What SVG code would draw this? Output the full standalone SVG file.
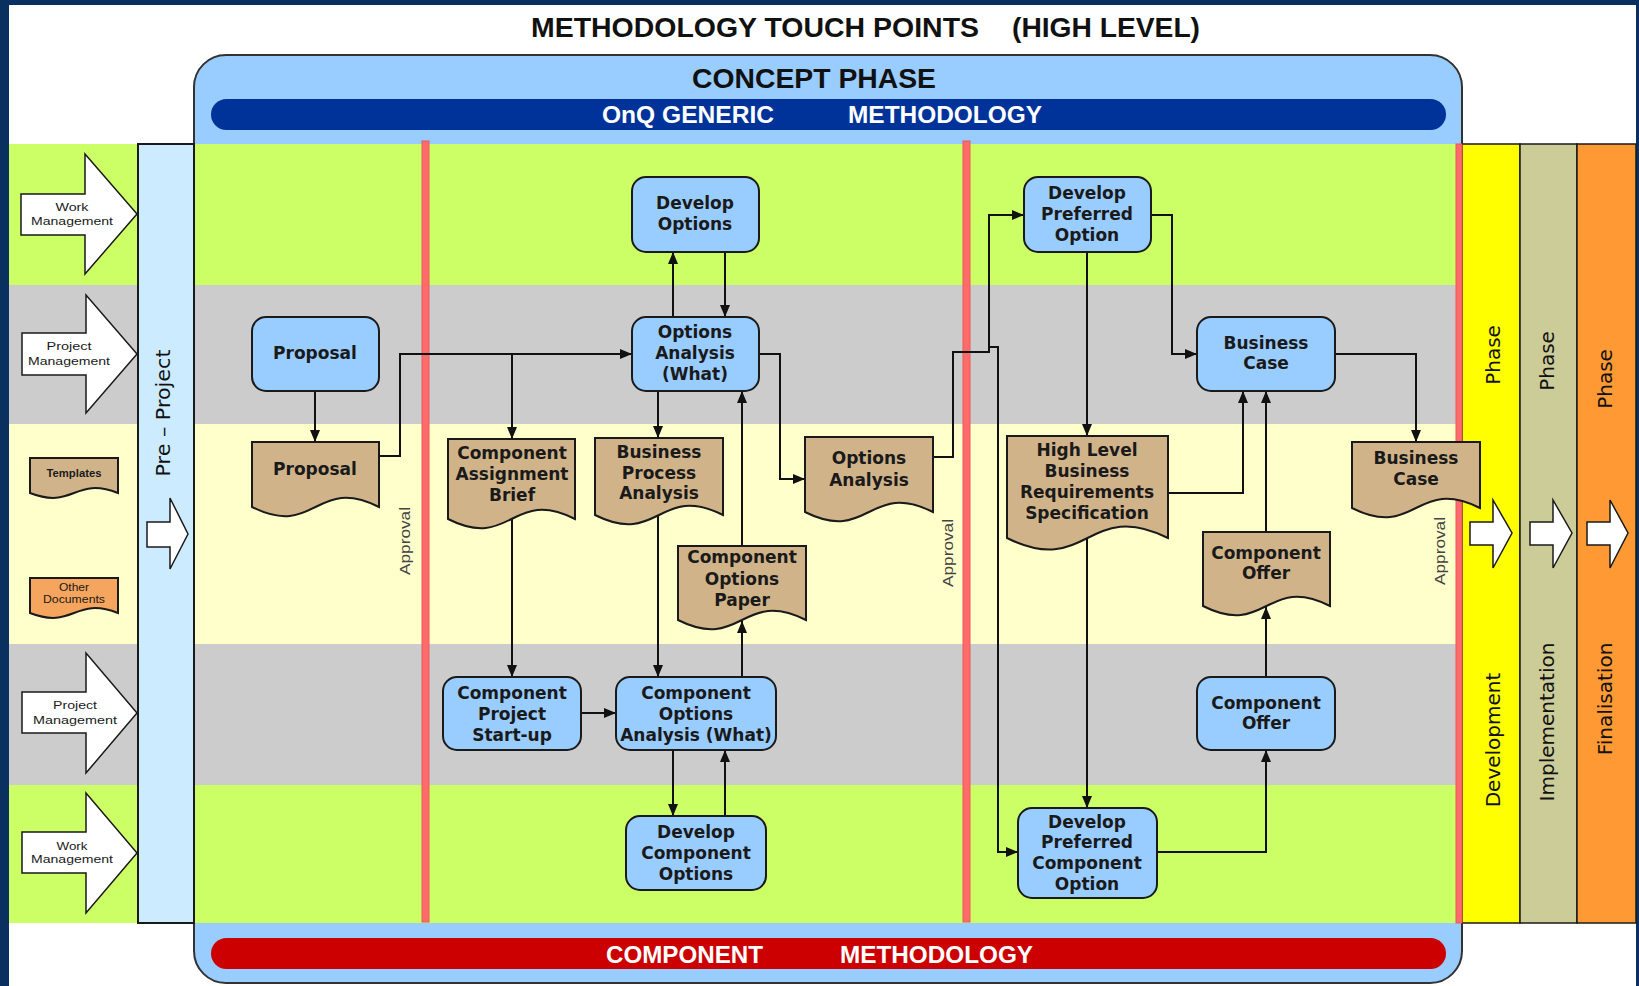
<svg xmlns="http://www.w3.org/2000/svg" width="1639" height="986" viewBox="0 0 1639 986">
  <defs>
    <style>
      .lane-green { fill: #CCFF66; }
      .lane-gray { fill: #CCCCCC; }
      .lane-cream { fill: #FFFFCC; }
      .gate { fill: #FF6B6B; stroke: #E85A5A; stroke-width: 1; }
      .inflow { fill: #FFFFFF; stroke: #1A1A1A; stroke-width: 1.5; stroke-linejoin: miter; }
      .phase { stroke: #1A1A1A; stroke-width: 1.5; }
      .proc { fill: #99CCFF; stroke: #1A1A1A; stroke-width: 2; }
      .doc { fill: #D1B38A; stroke: #1A1A1A; stroke-width: 2; stroke-linejoin: miter; }
      .nt { font-family: "DejaVu Sans", "Liberation Sans", sans-serif; font-weight: bold; font-size: 17px; fill: #1A1A1A; text-anchor: middle; }
      .head { font-family: "Liberation Sans", Arial, sans-serif; font-weight: bold; fill: #111111; }
      .band { font-family: "Liberation Sans", Arial, sans-serif; font-weight: bold; font-size: 24px; fill: #FFFFFF; }
      .small { font-family: "Liberation Sans", Arial, sans-serif; font-size: 11px; fill: #1A1A1A; text-anchor: middle; }
      .vert { font-family: "DejaVu Sans", sans-serif; font-size: 20px; fill: #111111; text-anchor: middle; }
      .appr { font-family: "Liberation Sans", Arial, sans-serif; font-size: 15px; fill: #444444; text-anchor: middle; }
      .wire { fill: none; stroke: #111111; stroke-width: 2; marker-end: url(#tip); }
    </style>
    <marker id="tip" markerUnits="userSpaceOnUse" markerWidth="12" markerHeight="10" refX="12" refY="5" orient="auto">
      <path d="M0,0 L12,5 L0,10 Z" fill="#111111"/>
    </marker>
  </defs>

  <!-- frame and page -->
  <rect x="0" y="0" width="1639" height="986" fill="#0A3060"/>
  <rect x="9" y="5" width="1627" height="981" fill="#FFFFFF"/>

  <!-- title -->
  <text class="head" x="531" y="37" font-size="27" textLength="448" lengthAdjust="spacingAndGlyphs">METHODOLOGY TOUCH POINTS</text>
  <text class="head" x="1012" y="37" font-size="27" textLength="188" lengthAdjust="spacingAndGlyphs">(HIGH LEVEL)</text>

  <!-- concept phase container -->
  <g id="concept-phase">
    <rect x="194" y="55" width="1268" height="928" rx="32" fill="#99CCFF" stroke="#333333" stroke-width="2"/>
    <text class="head" x="692" y="88" font-size="27" textLength="244" lengthAdjust="spacingAndGlyphs">CONCEPT PHASE</text>
    <rect x="211" y="99" width="1235" height="31" rx="15.5" fill="#003399"/>
    <text class="band" x="602" y="123" textLength="172" lengthAdjust="spacingAndGlyphs">OnQ GENERIC</text>
    <text class="band" x="848" y="123" textLength="194" lengthAdjust="spacingAndGlyphs">METHODOLOGY</text>
    <rect x="211" y="938" width="1235" height="31" rx="15.5" fill="#CC0000"/>
    <text class="band" x="606" y="963" textLength="157" lengthAdjust="spacingAndGlyphs">COMPONENT</text>
    <text class="band" x="840" y="963" textLength="193" lengthAdjust="spacingAndGlyphs">METHODOLOGY</text>
  </g>

  <!-- swim lanes -->
  <g id="lanes">
    <rect class="lane-green" x="9" y="144" width="1449" height="141"/>
    <rect class="lane-gray" x="9" y="285" width="1449" height="139"/>
    <rect class="lane-cream" x="9" y="424" width="1449" height="220"/>
    <rect class="lane-gray" x="9" y="644" width="1449" height="141"/>
    <rect class="lane-green" x="9" y="785" width="1449" height="138"/>
  </g>

  <!-- lane inflow arrows -->
  <g id="lane-work-top">
    <path class="inflow" d="M21,194 H85 V154 L137,214 L85,274 V235 H21 Z"/>
    <text class="small" x="72" y="211" textLength="33" lengthAdjust="spacingAndGlyphs">Work</text>
    <text class="small" x="72" y="225" textLength="82" lengthAdjust="spacingAndGlyphs">Management</text>
  </g>
  <g id="lane-project-top">
    <path class="inflow" d="M22,333 H86 V295 L137,354 L86,413 V375 H22 Z"/>
    <text class="small" x="69" y="350" textLength="45" lengthAdjust="spacingAndGlyphs">Project</text>
    <text class="small" x="69" y="365" textLength="82" lengthAdjust="spacingAndGlyphs">Management</text>
  </g>
  <g id="lane-project-bottom">
    <path class="inflow" d="M22,692 H86 V653 L137,713 L86,773 V733 H22 Z"/>
    <text class="small" x="75" y="709" textLength="44" lengthAdjust="spacingAndGlyphs">Project</text>
    <text class="small" x="75" y="724" textLength="84" lengthAdjust="spacingAndGlyphs">Management</text>
  </g>
  <g id="lane-work-bottom">
    <path class="inflow" d="M22,832 H86 V793 L137,853 L86,913 V873 H22 Z"/>
    <text class="small" x="72" y="850" textLength="31" lengthAdjust="spacingAndGlyphs">Work</text>
    <text class="small" x="72" y="863" textLength="82" lengthAdjust="spacingAndGlyphs">Management</text>
  </g>

  <!-- legend -->
  <g id="legend-templates">
    <path class="doc" stroke-width="1.5" d="M30,458 H118 V493 C74,476 74,510 30,493 Z"/>
    <text class="small" x="74" y="477" font-size="10" font-weight="bold" textLength="55" lengthAdjust="spacingAndGlyphs">Templates</text>
  </g>
  <g id="legend-other">
    <path class="doc" stroke-width="1.5" fill="#F5A55E" d="M30,578 H118 V613 C74,596 74,630 30,613 Z" style="fill:#F5A55E"/>
    <text class="small" x="74" y="591" font-size="10" textLength="30" lengthAdjust="spacingAndGlyphs">Other</text>
    <text class="small" x="74" y="603" font-size="10" textLength="62" lengthAdjust="spacingAndGlyphs">Documents</text>
  </g>

  <!-- pre-project column -->
  <g id="pre-project">
    <rect x="138" y="144" width="56" height="779" fill="#CCEBFF" stroke="#1A1A1A" stroke-width="2"/>
    <text class="vert" transform="translate(164,413) rotate(-90)" y="6" textLength="127" lengthAdjust="spacingAndGlyphs">Pre – Project</text>
    <path class="inflow" d="M147,522 H170 V498 L188,534 L170,569 V547 H147 Z"/>
  </g>

  <!-- downstream phases -->
  <g id="development-phase">
    <rect class="phase" x="1462" y="144" width="58" height="779" fill="#FFFF00"/>
    <text class="vert" transform="translate(1493,355) rotate(-90)" y="7">Phase</text>
    <text class="vert" transform="translate(1493,740) rotate(-90)" y="7">Development</text>
    <path class="inflow" d="M1470,522 H1493 V500 L1512,533 L1493,568 V545 H1470 Z"/>
  </g>
  <g id="implementation-phase">
    <rect class="phase" x="1520" y="144" width="57" height="779" fill="#CCCC99"/>
    <text class="vert" transform="translate(1547,361) rotate(-90)" y="7">Phase</text>
    <text class="vert" transform="translate(1547,722) rotate(-90)" y="7">Implementation</text>
    <path class="inflow" d="M1530,522 H1553 V500 L1572,533 L1553,568 V545 H1530 Z"/>
  </g>
  <g id="finalisation-phase">
    <rect class="phase" x="1577" y="144" width="59" height="779" fill="#FF9933"/>
    <text class="vert" transform="translate(1605,379) rotate(-90)" y="7">Phase</text>
    <text class="vert" transform="translate(1605,699) rotate(-90)" y="7">Finalisation</text>
    <path class="inflow" d="M1587,522 H1610 V500 L1628,533 L1610,568 V545 H1587 Z"/>
  </g>

  <!-- approval gates -->
  <g id="gates">
    <rect class="gate" x="422" y="141" width="7" height="781"/>
    <rect class="gate" x="963" y="141" width="7" height="781"/>
    <rect class="gate" x="1456" y="144" width="6" height="779"/>
    <text class="appr" transform="translate(405,541) rotate(-90)" y="5" textLength="68" lengthAdjust="spacingAndGlyphs">Approval</text>
    <text class="appr" transform="translate(948,553) rotate(-90)" y="5" textLength="68" lengthAdjust="spacingAndGlyphs">Approval</text>
    <text class="appr" transform="translate(1440,551) rotate(-90)" y="5" textLength="68" lengthAdjust="spacingAndGlyphs">Approval</text>
  </g>

  <!-- connectors -->
  <g id="connectors">
    <path class="wire" d="M673,317 V252"/>
    <path class="wire" d="M725,252 V317"/>
    <path class="wire" d="M315,391 V442"/>
    <path class="wire" d="M379,456 H400 V354 H632"/>
    <path class="wire" d="M512,354 V439"/>
    <path class="wire" d="M658,391 V438"/>
    <path class="wire" d="M742,546 V391"/>
    <path class="wire" d="M759,354 H780 V479 H805"/>
    <path class="wire" d="M933,457 H953 V352 H989 V215 H1024"/>
    <path class="wire" d="M989,347 H998 V852 H1018"/>
    <path class="wire" d="M1087,252 V436"/>
    <path class="wire" d="M1151,215 H1172 V354 H1197"/>
    <path class="wire" d="M1168,493 H1243 V391"/>
    <path class="wire" d="M1266,532 V391"/>
    <path class="wire" d="M1087,538 V808"/>
    <path class="wire" d="M1157,852 H1266 V750"/>
    <path class="wire" d="M1266,677 V607"/>
    <path class="wire" d="M1335,354 H1416 V442"/>
    <path class="wire" d="M512,519 V677"/>
    <path class="wire" d="M658,515 V677"/>
    <path class="wire" d="M742,677 V621"/>
    <path class="wire" d="M581,713 H616"/>
    <path class="wire" d="M673,750 V816"/>
    <path class="wire" d="M725,816 V750"/>
  </g>

  <!-- process steps -->
  <g id="develop-options">
    <rect class="proc" x="632" y="177" width="127" height="75" rx="14"/>
    <text class="nt" x="695" y="209">Develop</text>
    <text class="nt" x="695" y="230">Options</text>
  </g>
  <g id="options-analysis">
    <rect class="proc" x="632" y="317" width="127" height="74" rx="14"/>
    <text class="nt" x="695" y="338">Options</text>
    <text class="nt" x="695" y="359">Analysis</text>
    <text class="nt" x="695" y="380">(What)</text>
  </g>
  <g id="proposal">
    <rect class="proc" x="252" y="317" width="127" height="74" rx="14"/>
    <text class="nt" x="315" y="359">Proposal</text>
  </g>
  <g id="develop-preferred-option">
    <rect class="proc" x="1024" y="177" width="127" height="75" rx="14"/>
    <text class="nt" x="1087" y="199">Develop</text>
    <text class="nt" x="1087" y="220">Preferred</text>
    <text class="nt" x="1087" y="241">Option</text>
  </g>
  <g id="business-case">
    <rect class="proc" x="1197" y="317" width="138" height="74" rx="14"/>
    <text class="nt" x="1266" y="349">Business</text>
    <text class="nt" x="1266" y="369">Case</text>
  </g>
  <g id="component-project-start-up">
    <rect class="proc" x="443" y="677" width="138" height="73" rx="14"/>
    <text class="nt" x="512" y="699">Component</text>
    <text class="nt" x="512" y="720">Project</text>
    <text class="nt" x="512" y="741">Start-up</text>
  </g>
  <g id="component-options-analysis">
    <rect class="proc" x="616" y="677" width="160" height="73" rx="14"/>
    <text class="nt" x="696" y="699">Component</text>
    <text class="nt" x="696" y="720">Options</text>
    <text class="nt" x="696" y="741">Analysis (What)</text>
  </g>
  <g id="develop-component-options">
    <rect class="proc" x="626" y="816" width="140" height="74" rx="14"/>
    <text class="nt" x="696" y="838">Develop</text>
    <text class="nt" x="696" y="859">Component</text>
    <text class="nt" x="696" y="880">Options</text>
  </g>
  <g id="develop-preferred-component-option">
    <rect class="proc" x="1018" y="808" width="139" height="90" rx="14"/>
    <text class="nt" x="1087" y="828">Develop</text>
    <text class="nt" x="1087" y="848">Preferred</text>
    <text class="nt" x="1087" y="869">Component</text>
    <text class="nt" x="1087" y="890">Option</text>
  </g>
  <g id="component-offer">
    <rect class="proc" x="1197" y="677" width="138" height="73" rx="14"/>
    <text class="nt" x="1266" y="709">Component</text>
    <text class="nt" x="1266" y="729">Offer</text>
  </g>

  <!-- documents -->
  <g id="proposal-doc">
    <path class="doc" d="M252,442 H379 V507 C315.5,475 315.5,539 252,507 Z"/>
    <text class="nt" x="315" y="475">Proposal</text>
  </g>
  <g id="component-assignment-brief">
    <path class="doc" d="M448,439 H575 V519 C511.5,487 511.5,551 448,519 Z"/>
    <text class="nt" x="512" y="459">Component</text>
    <text class="nt" x="512" y="480">Assignment</text>
    <text class="nt" x="512" y="501">Brief</text>
  </g>
  <g id="business-process-analysis">
    <path class="doc" d="M595,438 H723 V515 C659,483 659,547 595,515 Z"/>
    <text class="nt" x="659" y="458">Business</text>
    <text class="nt" x="659" y="479">Process</text>
    <text class="nt" x="659" y="499">Analysis</text>
  </g>
  <g id="options-analysis-doc">
    <path class="doc" d="M805,437 H933 V512 C869,480 869,544 805,512 Z"/>
    <text class="nt" x="869" y="464">Options</text>
    <text class="nt" x="869" y="486">Analysis</text>
  </g>
  <g id="high-level-requirements">
    <path class="doc" d="M1007,436 H1168 V538 C1087.5,498 1087.5,578 1007,538 Z"/>
    <text class="nt" x="1087" y="456">High Level</text>
    <text class="nt" x="1087" y="477">Business</text>
    <text class="nt" x="1087" y="498">Requirements</text>
    <text class="nt" x="1087" y="519">Specification</text>
  </g>
  <g id="component-options-paper">
    <path class="doc" d="M678,546 H806 V620 C742,588 742,652 678,620 Z"/>
    <text class="nt" x="742" y="563">Component</text>
    <text class="nt" x="742" y="585">Options</text>
    <text class="nt" x="742" y="606">Paper</text>
  </g>
  <g id="component-offer-doc">
    <path class="doc" d="M1203,532 H1330 V606 C1266.5,574 1266.5,638 1203,606 Z"/>
    <text class="nt" x="1266" y="559">Component</text>
    <text class="nt" x="1266" y="579">Offer</text>
  </g>
  <g id="business-case-doc">
    <path class="doc" d="M1352,442 H1480 V508 C1416,476 1416,540 1352,508 Z"/>
    <text class="nt" x="1416" y="464">Business</text>
    <text class="nt" x="1416" y="485">Case</text>
  </g>
</svg>
